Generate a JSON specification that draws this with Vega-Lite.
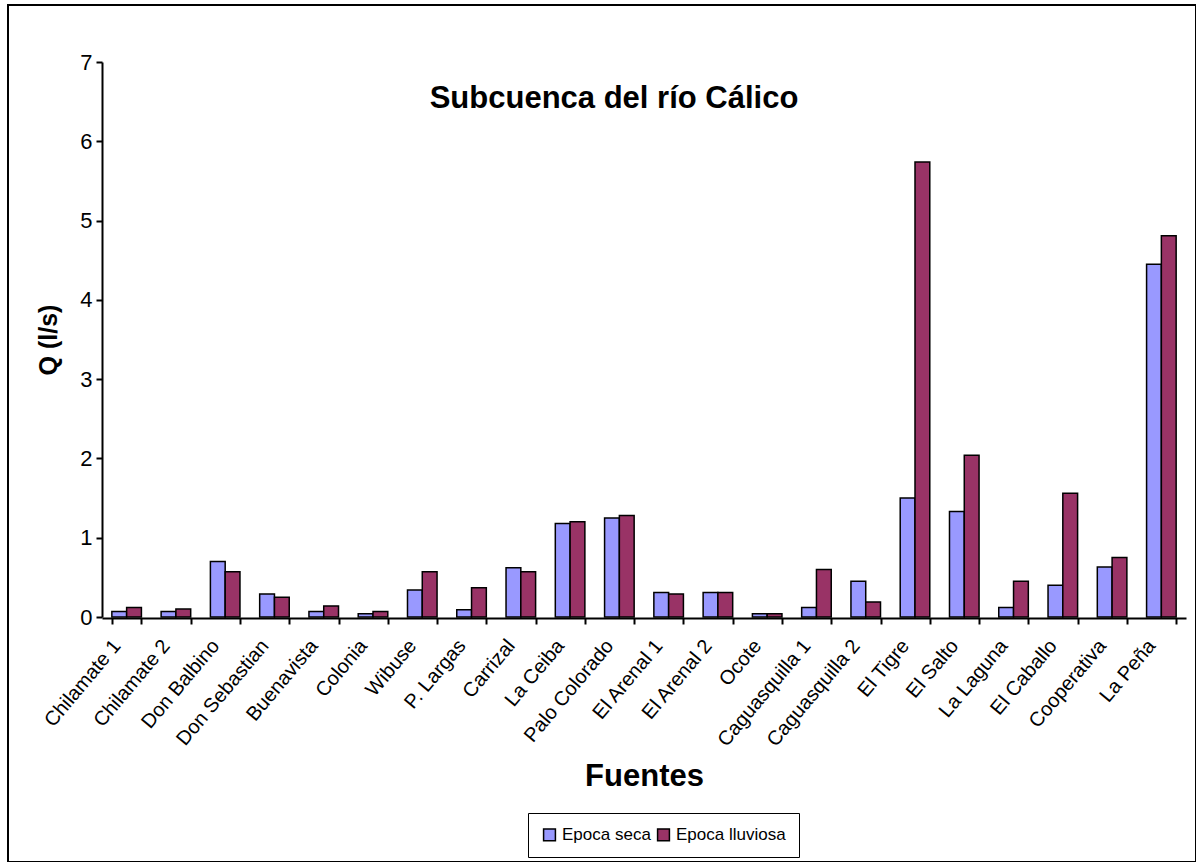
{
  "$schema": "https://vega.github.io/schema/vega-lite/v6.json",
  "autosize": "none",
  "padding": {"left": 8, "top": 5, "right": 0, "bottom": 0},
  "width": 1188,
  "height": 857,
  "background": "white",
  "title": {
    "text": "Subcuenca del río Cálico",
    "frame": "group",
    "anchor": "middle",
    "orient": "top",
    "baseline": "alphabetic",
    "offset": 0,
    "dx": 12,
    "dy": 134,
    "font": "Liberation Sans, Arial",
    "fontSize": 31,
    "fontWeight": "bold",
    "color": "black"
  },
  "data": {
    "values": [
      {"fuente": "Chilamate 1", "epoca": "Epoca seca", "q": 0.07},
      {"fuente": "Chilamate 1", "epoca": "Epoca lluviosa", "q": 0.12},
      {"fuente": "Chilamate 2", "epoca": "Epoca seca", "q": 0.07},
      {"fuente": "Chilamate 2", "epoca": "Epoca lluviosa", "q": 0.10},
      {"fuente": "Don Balbino", "epoca": "Epoca seca", "q": 0.70},
      {"fuente": "Don Balbino", "epoca": "Epoca lluviosa", "q": 0.57},
      {"fuente": "Don Sebastian", "epoca": "Epoca seca", "q": 0.29},
      {"fuente": "Don Sebastian", "epoca": "Epoca lluviosa", "q": 0.25},
      {"fuente": "Buenavista", "epoca": "Epoca seca", "q": 0.07},
      {"fuente": "Buenavista", "epoca": "Epoca lluviosa", "q": 0.14},
      {"fuente": "Colonia", "epoca": "Epoca seca", "q": 0.04},
      {"fuente": "Colonia", "epoca": "Epoca lluviosa", "q": 0.07},
      {"fuente": "Wibuse", "epoca": "Epoca seca", "q": 0.34},
      {"fuente": "Wibuse", "epoca": "Epoca lluviosa", "q": 0.57},
      {"fuente": "P. Largas", "epoca": "Epoca seca", "q": 0.09},
      {"fuente": "P. Largas", "epoca": "Epoca lluviosa", "q": 0.37},
      {"fuente": "Carrizal", "epoca": "Epoca seca", "q": 0.62},
      {"fuente": "Carrizal", "epoca": "Epoca lluviosa", "q": 0.57},
      {"fuente": "La Ceiba", "epoca": "Epoca seca", "q": 1.18},
      {"fuente": "La Ceiba", "epoca": "Epoca lluviosa", "q": 1.20},
      {"fuente": "Palo Colorado", "epoca": "Epoca seca", "q": 1.25},
      {"fuente": "Palo Colorado", "epoca": "Epoca lluviosa", "q": 1.28},
      {"fuente": "El Arenal 1", "epoca": "Epoca seca", "q": 0.31},
      {"fuente": "El Arenal 1", "epoca": "Epoca lluviosa", "q": 0.29},
      {"fuente": "El Arenal 2", "epoca": "Epoca seca", "q": 0.31},
      {"fuente": "El Arenal 2", "epoca": "Epoca lluviosa", "q": 0.31},
      {"fuente": "Ocote", "epoca": "Epoca seca", "q": 0.04},
      {"fuente": "Ocote", "epoca": "Epoca lluviosa", "q": 0.04},
      {"fuente": "Caguasquilla 1", "epoca": "Epoca seca", "q": 0.12},
      {"fuente": "Caguasquilla 1", "epoca": "Epoca lluviosa", "q": 0.60},
      {"fuente": "Caguasquilla 2", "epoca": "Epoca seca", "q": 0.45},
      {"fuente": "Caguasquilla 2", "epoca": "Epoca lluviosa", "q": 0.19},
      {"fuente": "El Tigre", "epoca": "Epoca seca", "q": 1.50},
      {"fuente": "El Tigre", "epoca": "Epoca lluviosa", "q": 5.74},
      {"fuente": "El Salto", "epoca": "Epoca seca", "q": 1.33},
      {"fuente": "El Salto", "epoca": "Epoca lluviosa", "q": 2.04},
      {"fuente": "La Laguna", "epoca": "Epoca seca", "q": 0.12},
      {"fuente": "La Laguna", "epoca": "Epoca lluviosa", "q": 0.45},
      {"fuente": "El Caballo", "epoca": "Epoca seca", "q": 0.40},
      {"fuente": "El Caballo", "epoca": "Epoca lluviosa", "q": 1.56},
      {"fuente": "Cooperativa", "epoca": "Epoca seca", "q": 0.63},
      {"fuente": "Cooperativa", "epoca": "Epoca lluviosa", "q": 0.75},
      {"fuente": "La Peña", "epoca": "Epoca seca", "q": 4.45},
      {"fuente": "La Peña", "epoca": "Epoca lluviosa", "q": 4.81}
    ]
  },
  "mark": {"type": "bar", "stroke": "black", "strokeWidth": 1.5},
  "encoding": {
    "x": {
      "field": "fuente",
      "type": "nominal",
      "sort": null,
      "scale": {"range": [94, 1178], "paddingInner": 0.4, "paddingOuter": 0.2},
      "axis": {
        "title": "Fuentes",
        "offset": -244,
        "tickBand": "extent",
        "domainColor": "black",
        "domainWidth": 2,
        "tickColor": "black",
        "tickWidth": 2,
        "tickSize": 6,
        "labelAngle": -50,
        "labelAlign": "right",
        "labelBaseline": "middle",
        "labelPadding": 18,
        "labelOffset": -10,
        "labelFont": "Liberation Sans, Arial",
        "labelFontSize": 20,
        "labelColor": "black",
        "titleFont": "Liberation Sans, Arial",
        "titleFontSize": 31,
        "titleFontWeight": "bold",
        "titleColor": "black",
        "titlePadding": 12
      }
    },
    "xOffset": {
      "field": "epoca",
      "type": "nominal",
      "sort": ["Epoca seca", "Epoca lluviosa"],
      "scale": {"paddingInner": 0}
    },
    "y": {
      "field": "q",
      "type": "quantitative",
      "scale": {"domain": [0, 7], "range": [612, 57], "nice": false},
      "axis": {
        "title": "Q  (l/s)",
        "offset": -94,
        "grid": false,
        "values": [0, 1, 2, 3, 4, 5, 6, 7],
        "domainColor": "black",
        "domainWidth": 2,
        "tickColor": "black",
        "tickWidth": 2,
        "tickSize": 6,
        "labelFont": "Liberation Sans, Arial",
        "labelFontSize": 22,
        "labelColor": "black",
        "labelPadding": 4,
        "titleFont": "Liberation Sans, Arial",
        "titleFontSize": 25,
        "titleFontWeight": "bold",
        "titleColor": "black",
        "titlePadding": 18
      }
    },
    "color": {
      "field": "epoca",
      "type": "nominal",
      "sort": ["Epoca seca", "Epoca lluviosa"],
      "scale": {"domain": ["Epoca seca", "Epoca lluviosa"], "range": ["#9999FF", "#993366"]},
      "legend": {
        "title": null,
        "orient": "none",
        "direction": "horizontal",
        "legendX": 520,
        "legendY": 808,
        "strokeColor": "black",
        "padding": 13,
        "symbolType": "square",
        "symbolSize": 140,
        "symbolStrokeColor": "black",
        "symbolStrokeWidth": 1.5,
        "labelFont": "Liberation Sans, Arial",
        "labelFontSize": 17,
        "labelColor": "black",
        "labelOffset": 4,
        "columnPadding": 3
      }
    }
  },
  "config": {
    "view": {"stroke": "black", "strokeWidth": 2},
    "axis": {"grid": false}
  }
}
